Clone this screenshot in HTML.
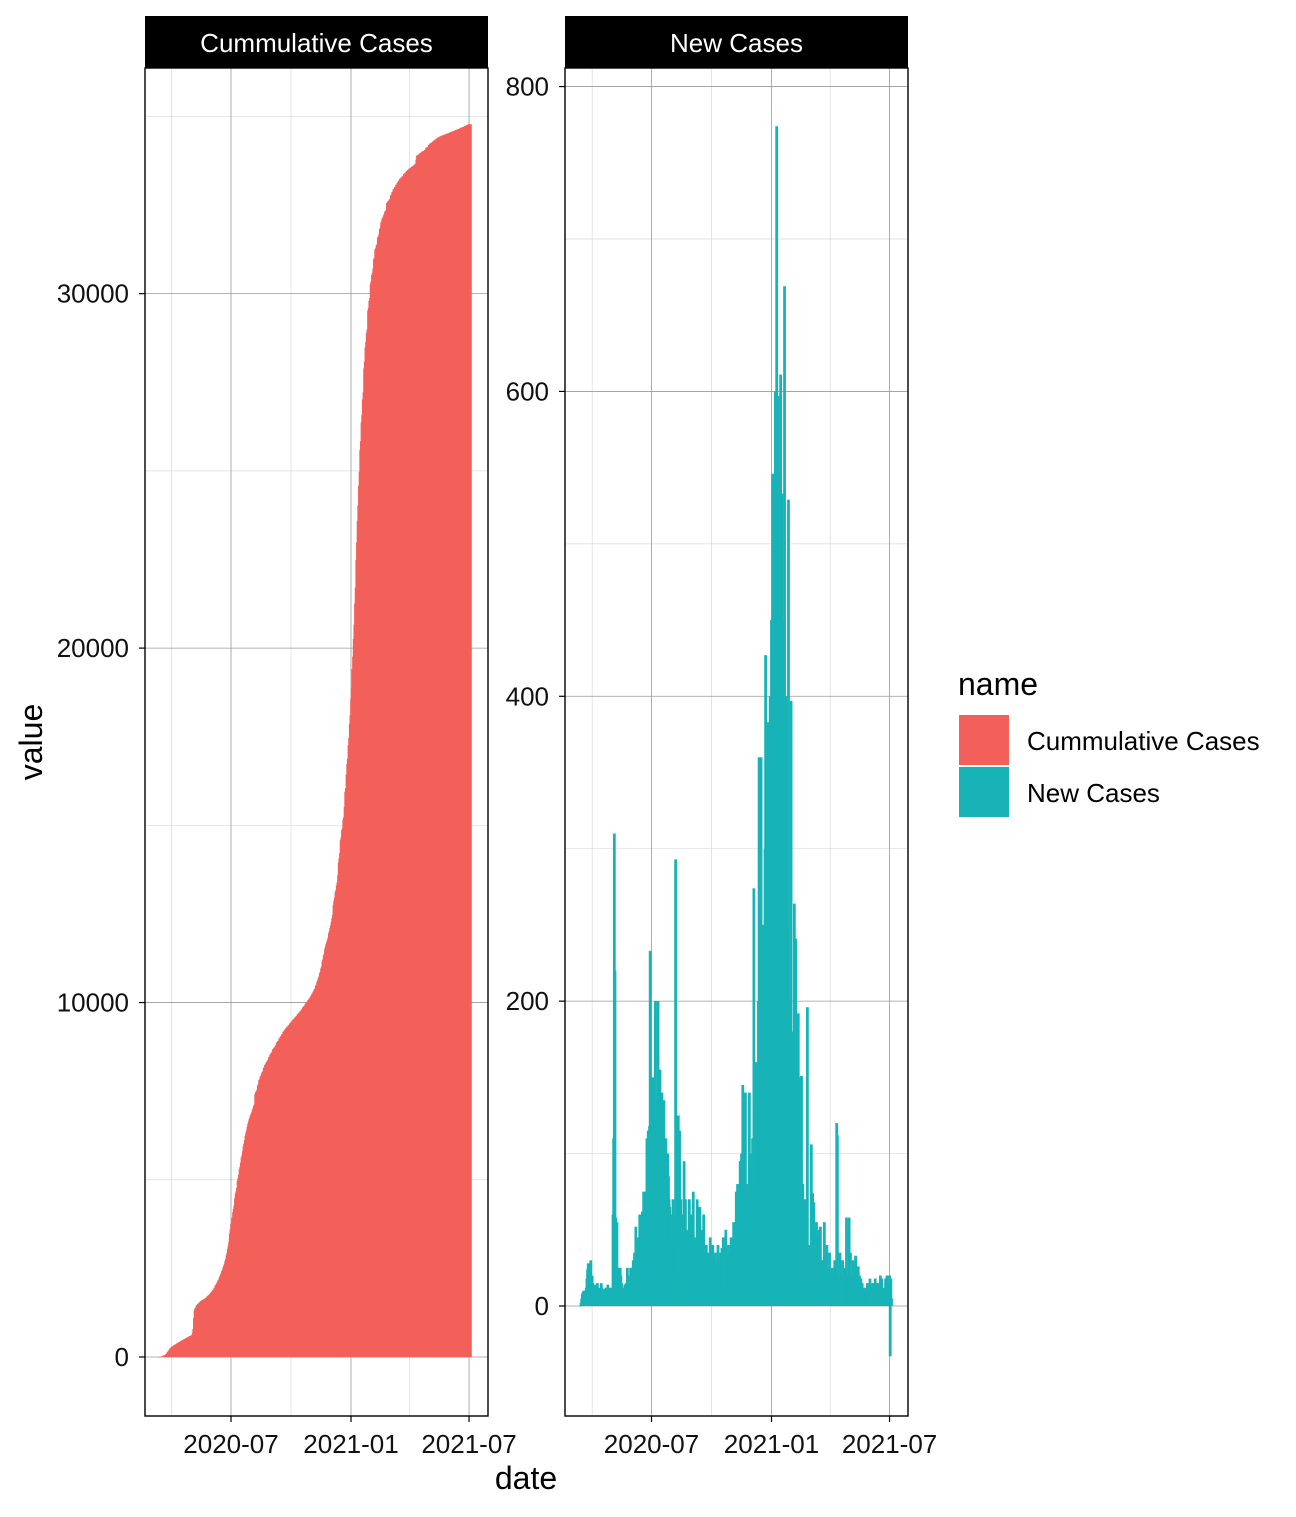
<!DOCTYPE html>
<html><head><meta charset="utf-8"><style>
body{margin:0;background:#fff}
svg text{font-family:"Liberation Sans",Arial,sans-serif}
</style></head><body>
<svg id="chart" width="1296" height="1512" xmlns="http://www.w3.org/2000/svg">
<g id="left"></g>
<g id="right"></g>
<text x="526" y="1489" font-size="32" text-anchor="middle" fill="#000">date</text>
<text x="0" y="0" font-size="32" text-anchor="middle" fill="#000" transform="translate(42,742) rotate(-90)">value</text>
<g>
<text x="958" y="695" font-size="32" fill="#000">name</text>
<rect x="959" y="715" width="50" height="50" fill="#F3605B"/>
<rect x="959" y="767" width="50" height="50" fill="#17B3B7"/>
<text x="1027" y="750" font-size="26" fill="#000">Cummulative Cases</text>
<text x="1027" y="802" font-size="26" fill="#000">New Cases</text>
</g>
</svg>
<script>
const startDate = "2020-03-13";
const newCases = [
0,0,2,5,8,9,10,9,10,8,
12,18,24,28,26,22,25,30,18,20,
15,12,10,14,12,8,10,15,12,10,
10,12,8,15,12,10,9,11,8,10,
12,10,8,14,10,9,12,10,8,6,
12,60,110,310,220,58,20,55,15,25,
18,12,25,20,15,10,12,8,10,14,
12,15,10,25,20,18,12,15,25,20,
25,20,30,18,35,28,52,20,40,30,
45,25,60,35,50,40,62,30,75,45,
60,75,50,110,70,115,80,118,
233,120,150,60,118,150,95,100,200,135,
60,100,200,80,90,155,70,120,140,60,
120,135,80,100,110,95,60,100,85,70,
65,50,60,45,40,70,55,60,40,293,
50,30,40,125,30,115,25,70,30,60,
45,20,95,15,70,20,50,15,40,20,
70,15,60,20,40,12,75,18,30,15,
45,12,70,15,35,10,65,12,40,10,
50,10,60,15,30,10,40,12,35,10,
30,8,45,12,25,10,40,10,30,8,
35,10,28,12,40,10,30,8,35,12,
38,10,45,15,30,12,50,15,35,12,
40,15,35,12,45,20,40,15,55,25,
50,25,75,30,80,30,75,35,95,40,
100,50,145,60,110,50,140,60,80,50,
70,40,140,60,90,70,100,110,90,274,
120,80,160,60,130,90,200,360,120,150,
360,80,200,50,250,60,300,427,100,383,
300,150,383,200,400,250,450,300,546,350,
500,400,600,450,774,500,597,450,546,400,
611,250,533,200,450,200,669,200,400,150,
250,100,529,80,200,80,397,70,180,60,
120,264,40,241,30,80,30,192,30,60,
150,30,151,40,80,25,60,30,70,25,
30,196,15,40,10,30,15,106,10,74,
15,68,10,50,12,55,10,45,12,50,
5,52,5,30,5,30,5,55,5,30,
5,40,5,25,5,35,5,20,5,25,
3,20,3,30,3,25,120,112,3,20,
2,35,2,20,2,30,2,15,2,25,
3,58,2,20,2,58,2,35,2,20,
2,30,2,25,2,33,2,20,2,26,
2,20,1,18,2,15,1,12,2,10,
1,12,2,15,1,10,2,18,1,12,
1,15,2,10,1,18,2,12,1,15,
1,10,2,20,1,18,2,10,1,12,
2,18,1,20,2,15,1,20,-33,18,5
];
const leftTicks = [0,10000,20000,30000];
const leftMinor = [5000,15000,25000,35000];
const rightTicks = [0,200,400,600,800];
const rightMinor = [100,300,500,700];
const xTickLabels = ["2020-07","2021-01","2021-07"];
const xMinorLabels = ["2020-04","2020-10","2021-04"];

const NS="http://www.w3.org/2000/svg";
const DAY=86400000;
const ref=Date.UTC(2020,6,1);
function dayOff(s){const p=s.split("-").map(Number);return (Date.UTC(p[0],p[1]-1,p[2]||1)-ref)/DAY;}
const PXD=120/184;
function mk(parent,tag,attrs){const e=document.createElementNS(NS,tag);for(const k in attrs)e.setAttribute(k,attrs[k]);parent.appendChild(e);return e;}

const cumCases=[];let s=0;for(const v of newCases){s+=v;cumCases.push(s);}
const d0=dayOff(startDate);

function panel(g,x0,x1,x07,yFn,ticks,minor,title,vals,color,bw,key){
  const top=68,bot=1416;
  const xFn=d=>x07+d*PXD;
  mk(g,"rect",{x:x0,y:top,width:x1-x0,height:bot-top,fill:"#fff"});
  const clip=mk(g,"g",{});
  minor.forEach(v=>{const y=yFn(v);if(y>top&&y<bot){const l=mk(clip,"line",{x1:x0,x2:x1,y1:y,y2:y,stroke:"#d9d9d9","stroke-width":0.7});
    
    }});
  xMinorLabels.forEach(t=>{const x=xFn(dayOff(t));const l=mk(clip,"line",{x1:x,x2:x,y1:top,y2:bot,stroke:"#d9d9d9","stroke-width":0.7});
    
    });
  ticks.forEach(v=>{const y=yFn(v);const l=mk(clip,"line",{x1:x0,x2:x1,y1:y,y2:y,stroke:"#999","stroke-width":0.8});
    
    
    const tk=mk(g,"line",{x1:x0-6,x2:x0,y1:y,y2:y,stroke:"#000","stroke-width":1.2});
    
    
    const tx=mk(g,"text",{x:x0-16,y:y+9,"font-size":26,"text-anchor":"end",fill:"#111"});tx.textContent=v;
    
    });
  xTickLabels.forEach(t=>{const x=xFn(dayOff(t));const l=mk(clip,"line",{x1:x,x2:x,y1:top,y2:bot,stroke:"#999","stroke-width":0.8});
    
    
    const tk=mk(g,"line",{x1:x,x2:x,y1:bot,y2:bot+6,stroke:"#000","stroke-width":1.2});
    
    
    const tx=mk(g,"text",{x:x,y:bot+37,"font-size":26,"text-anchor":"middle",fill:"#111"});tx.textContent=t;
    
    });
  const y0=yFn(0);
  vals.forEach((v,i)=>{const x=xFn(d0+i);const y=yFn(v);
    const r=mk(g,"rect",{x:x-bw/2,y:Math.min(y,y0),width:bw,height:Math.max(Math.abs(y0-y),0.5),fill:color});
    
    });
  const b=mk(g,"rect",{x:x0,y:top,width:x1-x0,height:bot-top,fill:"none",stroke:"#000","stroke-width":1.4});
  
  
  const st=mk(g,"rect",{x:x0,y:16,width:x1-x0,height:52,fill:"#000"});
  
  
  const stt=mk(g,"text",{x:(x0+x1)/2,y:52,"font-size":26,"text-anchor":"middle",fill:"#fff"});stt.textContent=title;
  
  
}
panel(document.getElementById("left"),145,488,231,v=>1357-v*0.035445,leftTicks,leftMinor,"Cummulative Cases",cumCases,"#F3605B",1.6,"cumulative");
panel(document.getElementById("right"),565,908,651.5,v=>1306-v*1.5243,rightTicks,rightMinor,"New Cases",newCases,"#17B3B7",2.8,"new-cases");
</script>
</body></html>
